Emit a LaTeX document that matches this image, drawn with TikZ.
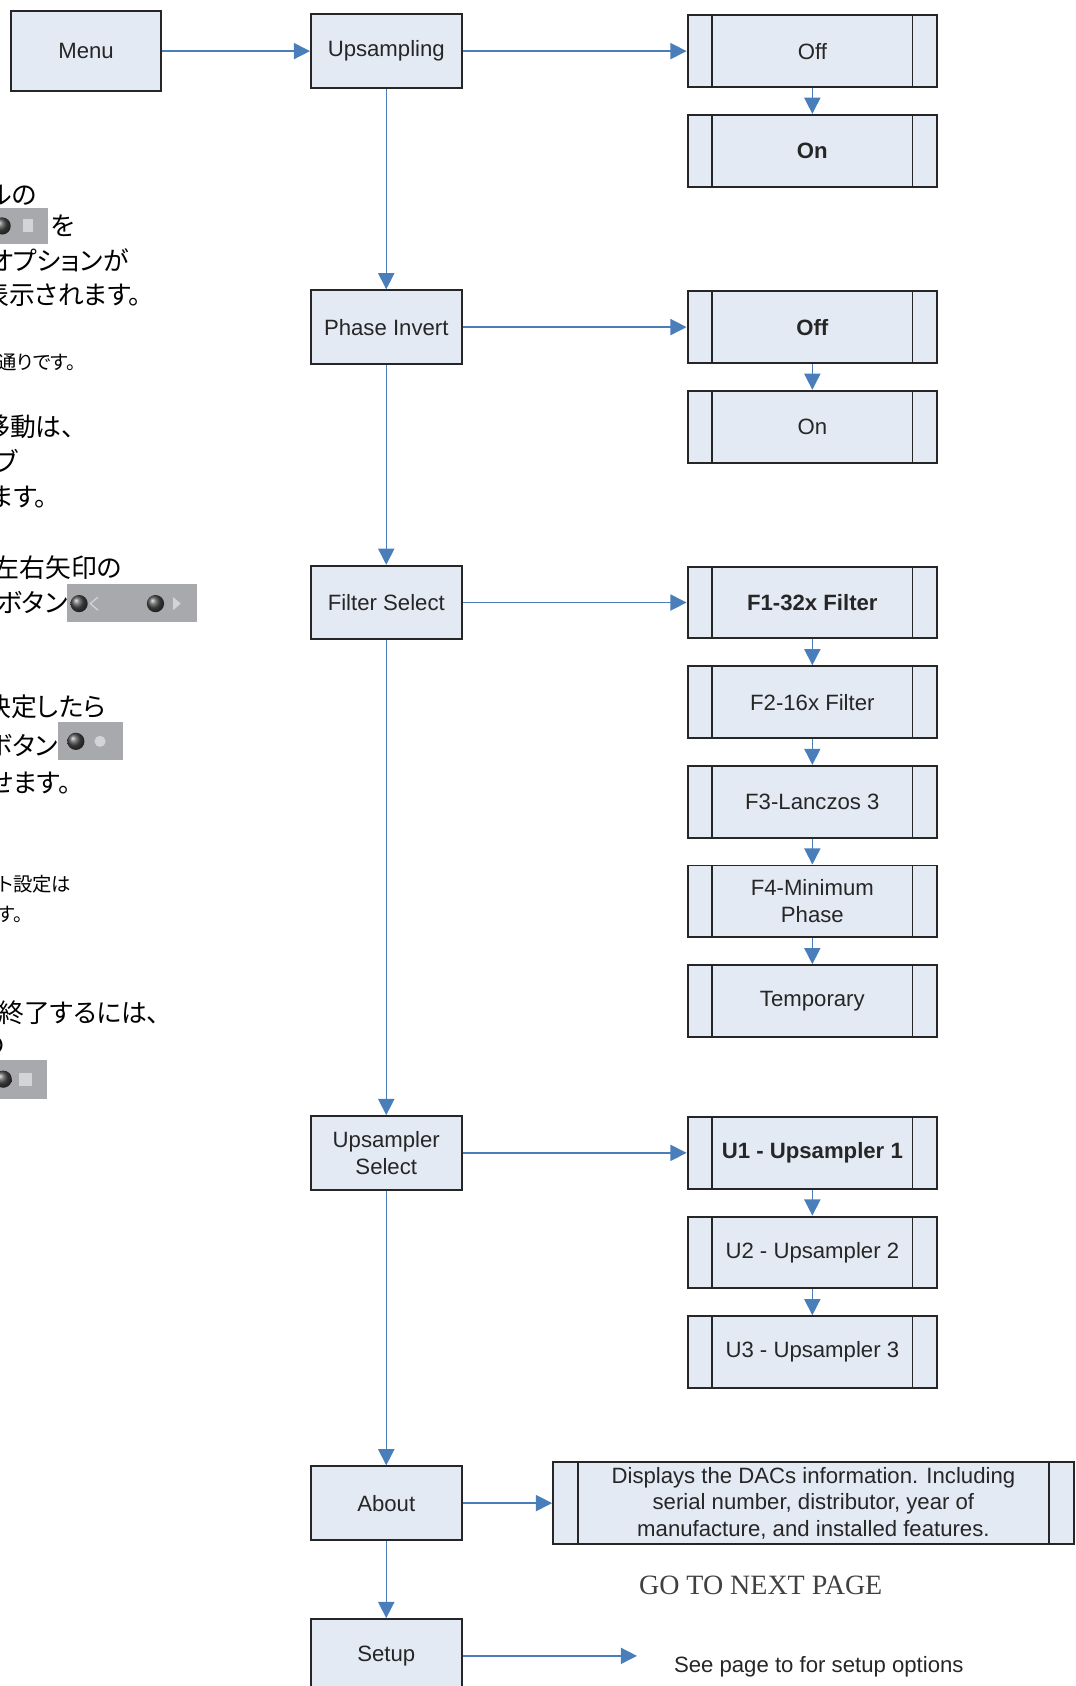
\documentclass[tikz,border=0pt]{standalone}
\usepackage{fontspec}
\setsansfont{Liberation Sans}
\newfontfamily\gofont{Liberation Serif}
\newfontfamily\jpfont[RawFeature=+palt]{Noto Sans CJK JP}
\usetikzlibrary{arrows.meta, positioning}
\definecolor{boxfill}{RGB}{228,234,244}
\definecolor{boxline}{RGB}{38,38,38}
\definecolor{flowblue}{RGB}{74,126,187}
\definecolor{btngray}{RGB}{168,169,172}
\definecolor{btnlight}{RGB}{210,212,216}
\tikzset{
    menustep/.style={rectangle, minimum width=70pt, minimum height=34.2pt, text centered, align=center, draw=boxline, line width=0.9pt, fill=boxfill, text=boxline, font=\sffamily\fontsize{10.3}{12.5}\selectfont, inner sep=1pt},
    choice/.style={menustep, minimum width=116pt, minimum height=33.4pt, path picture={
        \draw[boxline, line width=0.8pt] ([xshift=11.5pt]path picture bounding box.north west) -- ([xshift=11.5pt]path picture bounding box.south west)
            ([xshift=-11.5pt]path picture bounding box.north east) -- ([xshift=-11.5pt]path picture bounding box.south east);}},
    arrow/.style={draw=flowblue, line width=0.7pt, -{Triangle[length=7.5pt,width=7.5pt]}, color=flowblue},
    jpline/.style={anchor=west, inner sep=0pt, font=\jpfont\fontsize{12}{14}\selectfont},
    jpsmall/.style={jpline, font=\jpfont\fontsize{9}{11}\selectfont},
    knob/.style={ball color=black!70},
}
\begin{document}
\begin{tikzpicture}[x=0.5pt, y=-0.5pt, node distance=12pt]
    \useasboundingbox (0,0) rectangle (1000,1567);
    \clip (0,0) rectangle (1000,1567);

    % main column
    \node (menu) [menustep, minimum height=37.5pt] at (80,47.5) {Menu};
    \node (upsampling) [menustep] at (359,47.5) {Upsampling};
    \node (phase) [menustep] at (359,304) {Phase Invert};
    \node (filter) [menustep] at (359,560) {Filter Select};
    \node (upsel) [menustep] at (359,1071.5) {Upsampler\\Select};
    \node (about) [menustep] at (359,1397) {About};
    \node (setup) [menustep] at (359,1539) {Setup};

    % options
    \node (off1) [choice] at (755,47.5) {Off};
    \node (on1) [choice, below=of off1] {\textbf{On}};
    \node (off2) [choice] at (755,304) {\textbf{Off}};
    \node (on2) [choice, below=of off2] {On};
    \node (f1) [choice] at (755,560) {\textbf{F1-32x Filter}};
    \node (f2) [choice, below=of f1] {F2-16x Filter};
    \node (f3) [choice, below=of f2] {F3-Lanczos 3};
    \node (f4) [choice, below=of f3] {F4-Minimum\\Phase};
    \node (temp) [choice, below=of f4] {Temporary};
    \node (u1) [choice] at (755,1071.5) {\textbf{U1 - Upsampler 1}};
    \node (u2) [choice, below=of u1] {U2 - Upsampler 2};
    \node (u3) [choice, below=of u2] {U3 - Upsampler 3};
    \node (info) [choice, minimum width=242pt, minimum height=37.8pt, font=\sffamily\fontsize{10.3}{12.3}\selectfont] at (756,1397)
        {Displays the DACs information. Including\\serial number, distributor, year of\\manufacture, and installed features.};

    \node (nextpage) [text=black!75, font=\gofont\fontsize{13}{15}\selectfont] at (707,1473) {GO TO NEXT PAGE};
    \node (setupnote) [text=boxline, font=\sffamily\fontsize{10.3}{12.5}\selectfont] at (761,1549) {See page to for setup options};
    \coordinate (setupend) at (592,1539);

    \draw [arrow] (menu) -- (upsampling);
    \draw [arrow] (upsampling) -- (off1);
    \draw [arrow] (off1) -- (on1);
    \draw [arrow] (upsampling) -- (phase);
    \draw [arrow] (phase) -- (off2);
    \draw [arrow] (off2) -- (on2);
    \draw [arrow] (phase) -- (filter);
    \draw [arrow] (filter) -- (f1);
    \draw [arrow] (f1) -- (f2);
    \draw [arrow] (f2) -- (f3);
    \draw [arrow] (f3) -- (f4);
    \draw [arrow] (f4) -- (temp);
    \draw [arrow] (filter) -- (upsel);
    \draw [arrow] (upsel) -- (u1);
    \draw [arrow] (u1) -- (u2);
    \draw [arrow] (u2) -- (u3);
    \draw [arrow] (upsel) -- (about);
    \draw [arrow] (about) -- (info);
    \draw [arrow] (about) -- (setup);
    \draw [arrow] (setup) -- (setupend);

    % cut-off notes on the left
    \node (jp1) [jpline] at (-12,181) {ルの};
    \node (jp2) [jpline] at (47,210) {を};
    \node (jp3) [jpline] at (-10,242) {オプションが};
    \node (jp4) [jpline] at (-16,274) {表示されます。};
    \node (jp5) [jpsmall] at (-3,337) {通りです。};
    \node (jp6) [jpline] at (-15,397) {移動は、};
    \node (jp7) [jpline] at (-5,428) {ブ};
    \node (jp8) [jpline] at (-10,462) {ます。};
    \node (jp9) [jpline] at (-6,528) {左右矢印の};
    \node (jp10) [jpline] at (-3,560) {ボタン};
    \node (jp11) [jpline] at (-14,657) {決定したら};
    \node (jp12) [jpline] at (-12,693) {ボタン};
    \node (jp13) [jpline] at (-11,728) {せます。};
    \node (jp14) [jpsmall] at (-2,822) {ト設定は};
    \node (jp15) [jpsmall] at (-3,850) {す。};
    \node (jp16) [jpline] at (-2,941) {終了するには、};
    \node (jp17) [jpline] at (-19,972) {の};

    % panel buttons
    \fill[btngray] (0,193) rectangle (45,227);
    \shade[knob] (2,210) circle (4pt);
    \fill[btnlight] (21,204) rectangle (31,216);
    \fill[btngray] (62,543) rectangle (183,578);
    \shade[knob] (73.5,561) circle (4pt);
    \draw[btnlight, line width=0.6pt] (91,555) -- (84,561) -- (91,567);
    \shade[knob] (144.5,561) circle (4pt);
    \fill[btnlight] (161,555) -- (168,561) -- (161,567) -- cycle;
    \fill[btngray] (54,671) rectangle (114,706);
    \shade[knob] (70.5,689) circle (4pt);
    \fill[btnlight] (93,689) circle (2.6pt);
    \fill[btngray] (0,985) rectangle (44,1021);
    \shade[knob] (3,1003) circle (4pt);
    \fill[btnlight] (18,997) rectangle (30,1009);
\end{tikzpicture}
\end{document}
